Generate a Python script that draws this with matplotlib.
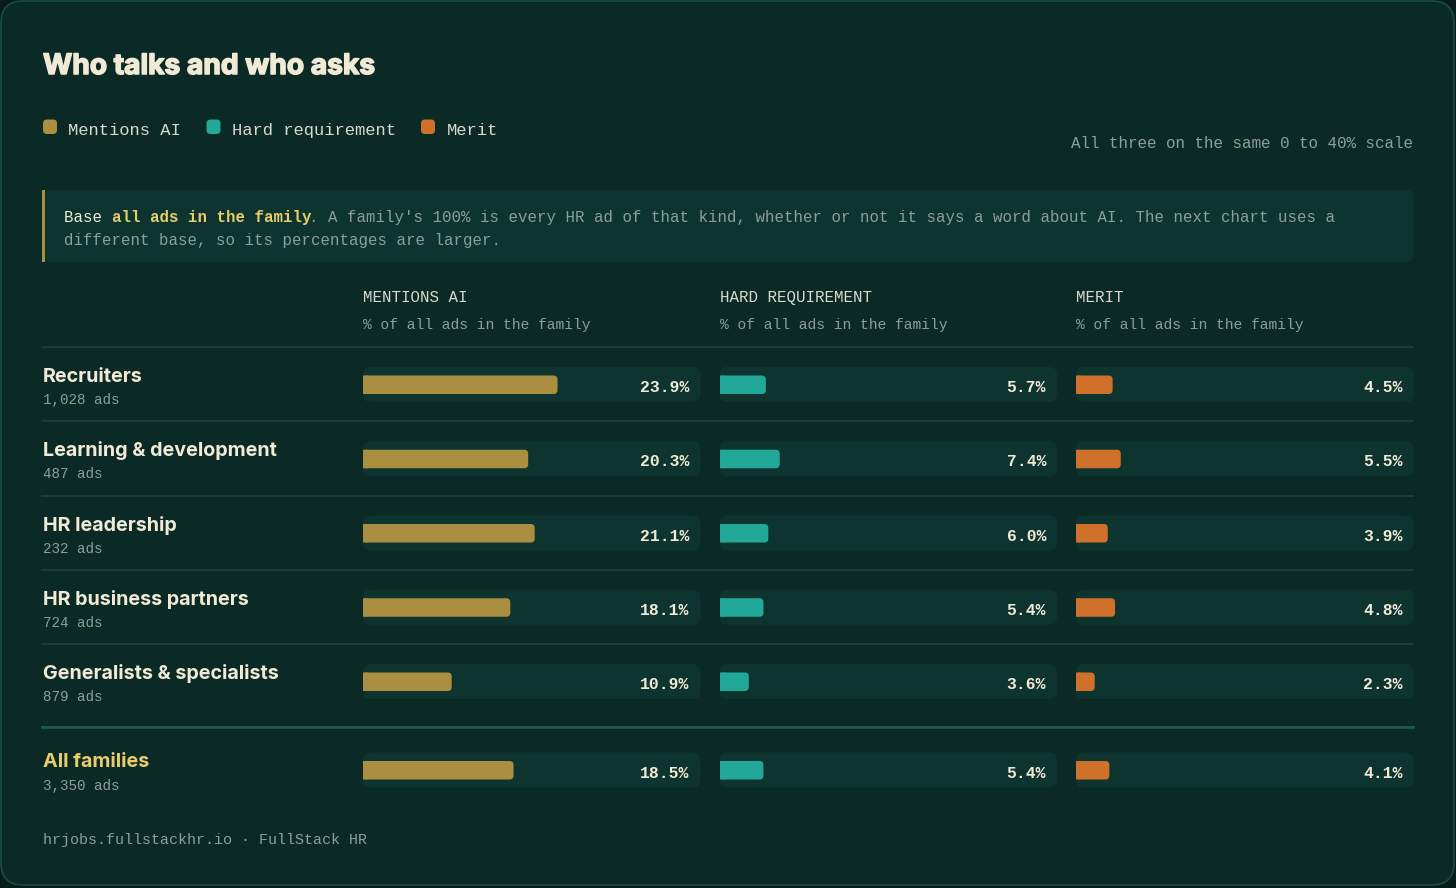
import matplotlib
matplotlib.use("Agg")
import matplotlib.pyplot as plt
import matplotlib.patheffects as pe
from matplotlib.patches import FancyBboxPatch, Rectangle

# data
families = ["Recruiters", "Learning & development", "HR leadership",
            "HR business partners", "Generalists & specialists"]
family_ads = ["1,028 ads", "487 ads", "232 ads", "724 ads", "879 ads"]
mentions_ai = [23.9, 20.3, 21.1, 18.1, 10.9]
hard_req = [5.7, 7.4, 6.0, 5.4, 3.6]
merit = [4.5, 5.5, 3.9, 4.8, 2.3]

total_label = "All families"
total_ads = "3,350 ads"
total_values = [18.5, 5.4, 4.1]

series_names = ["Mentions AI", "Hard requirement", "Merit"]
column_titles = ["MENTIONS AI", "HARD REQUIREMENT", "MERIT"]
column_sub = "% of all ads in the family"
scale_max = 40

# colours
OUTER = "#071d1a"
CARD = "#0b2a26"
CARD_EDGE = "#1b4b43"
NOTE_BG = "#0e3430"
TRACK = "#0e3430"
SEP = "#1a433d"
SEP_THICK = "#1f5a51"
CREAM = "#f1ead6"
GREY = "#8c9f98"
HEAD = "#d8d8cc"
GOLD_TXT = "#e9cd6b"
series_colors = ["#ab8f40", "#22a898", "#cf712a"]

MONO = "Liberation Mono"
SANS = "Inter"

W, H = 1456, 888
fig = plt.figure(figsize=(W / 100, H / 100), dpi=100, facecolor=OUTER)

bg = fig.add_axes([0, 0, 1, 1])
bg.set_xlim(0, W)
bg.set_ylim(H, 0)
bg.axis("off")

bg.add_patch(FancyBboxPatch((1, 1), W - 3, H - 4,
                            boxstyle="round,pad=0,rounding_size=22",
                            fc=CARD, ec=CARD_EDGE, lw=1.2))

# title (stroke to fake a heavier weight)
bg.text(43, 74, "Who talks and who asks", fontfamily=SANS, fontweight="bold",
        fontsize=20.3, color=CREAM, va="baseline",
        path_effects=[pe.withStroke(linewidth=1.1, foreground=CREAM)])

# legend
leg_x = [43, 206.5, 421]
for lx, name, col in zip(leg_x, series_names, series_colors):
    bg.add_patch(FancyBboxPatch((lx, 119.5), 14, 14.5,
                                boxstyle="round,pad=0,rounding_size=4",
                                fc=col, ec="none"))
    bg.text(lx + 25.5, 135, name, fontfamily=MONO, fontsize=12.3,
            color=HEAD, va="baseline")

bg.text(1413, 148, "All three on the same 0 to 40% scale", fontfamily=MONO,
        fontsize=11.4, color=GREY, ha="right", va="baseline")

# note box
bg.add_patch(FancyBboxPatch((42, 190), 1371, 72,
                            boxstyle="round,pad=0,rounding_size=6",
                            fc=NOTE_BG, ec="none"))
bg.add_patch(Rectangle((42, 190), 3, 72, fc="#a89040", ec="none"))

note_fs = 11.3
cw = note_fs / 72 * 100 * 0.6
parts = [("Base ", CREAM, "normal"),
         ("all ads in the family", GOLD_TXT, "bold"),
         (". A family's 100% is every HR ad of that kind, whether or not it says"
          " a word about AI. The next chart uses a", GREY, "normal")]
n = 0
for txt, col, wt in parts:
    bg.text(64.5 + n * cw, 222, txt, fontfamily=MONO, fontsize=note_fs,
            color=col, fontweight=wt, va="baseline")
    n += len(txt)
bg.text(64.5, 245, "different base, so its percentages are larger.",
        fontfamily=MONO, fontsize=note_fs, color=GREY, va="baseline")

# layout of the table
col_x = [363, 719.5, 1076]
track_w = 337.5
px_per_pct = (track_w - 12) / scale_max
row_y = [384.5 + 74.25 * i for i in range(len(families))]
total_y = 770

for cx, title in zip(col_x, column_titles):
    bg.text(cx, 302, title, fontfamily=MONO, fontsize=11.4, color=HEAD,
            va="baseline")
    bg.text(cx, 329, column_sub, fontfamily=MONO, fontsize=10.5, color=GREY,
            va="baseline")

bg.plot([42, 1413], [347, 347], color=SEP, lw=1.2)
for y in row_y[1:]:
    bg.plot([42, 1413], [y - 37.5, y - 37.5], color=SEP, lw=1.2)
bg.plot([42, 1413], [727, 727], color=SEP_THICK, lw=2.0)

for y, name, ads in zip(row_y, families, family_ads):
    bg.text(43, y - 2.5, name, fontfamily=SANS, fontweight="bold",
            fontsize=14.2, color=CREAM, va="baseline")
    bg.text(43, y + 19.5, ads, fontfamily=MONO, fontsize=10.3, color=GREY,
            va="baseline")
bg.text(43, total_y - 3.3, total_label, fontfamily=SANS, fontweight="bold",
        fontsize=14.2, color=GOLD_TXT, va="baseline")
bg.text(43, total_y + 20, total_ads, fontfamily=MONO, fontsize=10.3,
        color=GREY, va="baseline")

# bar columns: x in percent, y in pixels
xmax = track_w / px_per_pct
r_bar = 4 / px_per_pct
columns = [mentions_ai, hard_req, merit]
for ci, (cx, values, col) in enumerate(zip(col_x, columns, series_colors)):
    ax = fig.add_axes([cx / W, 0, track_w / W, 1])
    ax.set_xlim(0, xmax)
    ax.set_ylim(H, 0)
    ax.axis("off")
    ax.patch.set_alpha(0)
    ys = row_y + [total_y]
    vals = list(values) + [total_values[ci]]
    for y, v in zip(ys, vals):
        ax.add_patch(FancyBboxPatch((0, y - 17.5), xmax, 35,
                                    boxstyle=f"round,pad=0,rounding_size={8 / px_per_pct}",
                                    mutation_aspect=px_per_pct,
                                    fc=TRACK, ec="none"))
        ax.add_patch(FancyBboxPatch((0, y - 9), v, 18.5,
                                    boxstyle=f"round,pad=0,rounding_size={r_bar}",
                                    mutation_aspect=px_per_pct,
                                    fc=col, ec="none"))
        # square off the left end of the bar
        ax.barh(y + 0.25, r_bar * 1.2, height=18.5, left=0, color=col, lw=0,
                snap=False)
        ax.text(xmax - 11 / px_per_pct, y + 7.5, f"{v:.1f}%", fontfamily=MONO,
                fontweight="bold", fontsize=11.8, color=CREAM, ha="right",
                va="baseline")

bg.text(43, 844, "hrjobs.fullstackhr.io \u00b7 FullStack HR", fontfamily=MONO,
        fontsize=10.8, color=GREY, va="baseline")

fig.savefig("out.png", dpi=100, facecolor=OUTER)
